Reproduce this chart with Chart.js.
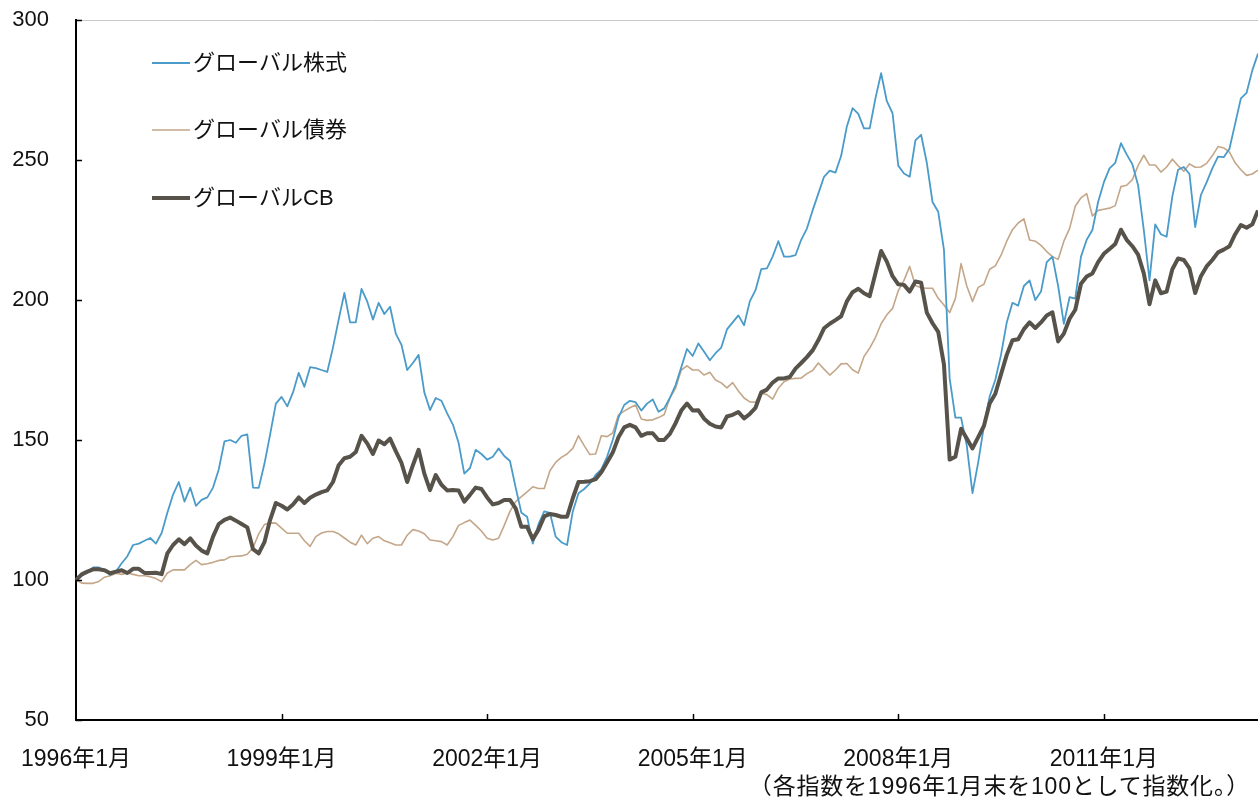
<!DOCTYPE html>
<html>
<head>
<meta charset="utf-8">
<script src="https://cdn.jsdelivr.net/npm/chart.js@4"></script>
<style>
  html, body { margin: 0; padding: 0; background: #fff; }
  #wrap { position: relative; width: 1258px; height: 800px; }
  #note { position: absolute; right: 8px; top: 767px; font: 23px 'Liberation Sans', 'Noto Sans CJK JP', sans-serif; letter-spacing: 0.8px; color: #111; white-space: nowrap; }
</style>
</head>
<body>
<div id="wrap">
  <canvas id="c" width="1258" height="800"></canvas>
  <div id="note">（各指数を1996年1月末を100として指数化。）</div>
</div>
<script>
// ---- data ----
const startYear = 1996;
const monthCount = 208; // 1996年1月 .. 2013年4月
const categories = [];
for (let i = 0; i < monthCount; i++) {
  const y = startYear + Math.floor(i / 12), m = (i % 12) + 1;
  categories.push(y + '年' + m + '月');
}
const tickLabels = ['1996年1月', '1999年1月', '2002年1月', '2005年1月', '2008年1月', '2011年1月'];
const seriesNames = ['グローバル株式', 'グローバル債券', 'グローバルCB'];

const stock = [
  100,101.5,103,104.5,104.5,103.5,101.8,103,106,108.5,
  112.5,113,114,115,113,116.8,124,130.5,135,128,
  133,126.5,128.6,129.5,133,139.5,149.5,150,149,151.5,
  152,133,132.9,141.5,152,163,165.4,162,167,174,
  169,176,175.7,175,174.3,183,193,202.5,192,192,
  204,199.5,193,199,
  195,197.6,188,184,175,177.5,180.4,167,160.7,165,
  164,159.5,155.5,149,138,140,146.5,145,143,144,
  147,144.3,142.5,133,124,122.6,113,120,124.5,124,
  115.5,113.5,112.5,124.5,131,132.5,134.5,137.5,139.5,144,
  150,158,162.5,164,163.5,160.5,163,164.5,160.1,161.3,
  165,169.6,176,
  182.5,180,184.5,181.5,178.5,181,183,189.5,192,194.5,
  191,199.5,203.5,211,211.3,215.5,221,215.5,215.5,216,
  221.5,225.5,232,238,244,246.2,245.5,251.5,262,268.5,
  266.5,261.3,261.3,272,281,271,266.7,248,245.2,244,
  257,259,249,235,231.5,218,172,158,
  158,148,131,142,155,165.5,171.5,180.5,192,199,
  198,205,207,200,203,213.5,215.5,205,191.5,201,
  200.5,215.5,221.5,225,235,242,247,249,256,252,
  248.5,241,225,207,227,223.5,222.6,237,246.5,247.5,
  245,226,237.5,242,247,251.2,251,254,263,272,
  274,282,288
];

const bond = [
  100,98.9,98.8,98.8,99.5,101,101.5,102.4,102,102.5,
  102,101.5,101.5,101.2,100.5,99.4,102.5,103.6,103.6,103.6,
  105.5,107,105.5,105.8,106.3,107,107.2,108.3,108.5,108.6,
  109.2,111.5,116.5,119.8,120.4,120.3,118.5,116.7,116.7,116.7,
  114,112,115.5,116.8,117.3,117.3,116.5,115,113.5,112.5,
  116,113,114.9,115.5,
  114,113.3,112.5,112.5,116,118,117.5,116.5,114.3,114,
  113.7,112.5,115.5,119.5,120.5,121.4,119.5,117.5,114.9,114.3,
  114.9,119.5,124.5,128,129.8,131.5,133.3,132.7,132.7,139,
  142,143.8,145,147,151.5,148,144.8,145,151.5,151.2,
  152.5,159,160.3,161.5,162.5,157.5,157,157.2,158,159,
  165,168.5,
  175,176.5,175,175,173.2,174.2,171.4,170.4,168.6,170.5,
  167.5,165,163.6,163.5,166.7,166.2,164.6,168.5,170.8,171.8,
  172,172.1,173.7,174.8,177.5,175.3,173.2,175,177.2,177.3,
  175.1,173.9,179.8,182.8,186.6,191.5,194.7,197,203.3,207,
  212,205.2,204.4,204.2,204.2,200.6,198.2,195.5,200.5,
  213,205,199.5,204.5,205.6,211,212.2,216,221,225.1,
  227.5,229,221.4,221,219.5,217.3,215.5,214.5,221,225.5,
  233.5,236.5,238,230,232,232.4,232.8,233.7,240.5,241,
  243,248,251.7,248.2,248.2,245.7,247.5,250.3,248,246,
  248.6,247.4,247.5,248.8,251.5,254.8,254.3,252.8,249,246.5,
  244.5,245,246.4
];

const cb = [
  100,102,103,103.8,103.8,103.5,102.4,103,103.5,102.5,
  104,104,102.5,102.5,102.6,102.1,109.5,112.5,114.5,112.8,
  114.9,112.3,110.5,109.5,115.5,120,121.5,122.3,121.2,120,
  118.8,111,109.5,113.5,121.5,127.5,126.5,125.2,127,129.5,
  127.5,129.4,130.5,131.4,132,135,141,143.5,144,145.7,
  151.5,148.8,145,149.8,
  148.5,150.5,146,141.8,135,141,146.5,138,132.1,137.5,
  134,132,132.1,132,128,130.4,133,132.5,129.5,127,
  127.5,128.6,128.6,125.6,119,119,114.6,118,122.7,123.6,
  123.2,122.6,122.6,129.2,135,135.1,135.3,136,138.5,142,
  145.5,151,154.5,155.4,154.5,151.5,152.4,152.4,150,150,
  152.2,156,
  160.5,163,160.5,160.6,157.6,155.8,154.8,154.5,158.4,159,
  160,157.7,159.3,161.5,167,168,170.5,172,172,172.5,
  175.5,177.5,179.6,182,185.6,189.9,191.5,192.8,194.2,199.5,
  202.8,204,202.4,201.4,209.5,217.5,213.7,208.5,205.6,205.4,
  203,206.6,206.2,195.5,191.7,188.6,177,143,144,
  154,150.5,147,151,155,163,166.5,173.5,180.4,185.6,
  186,189.6,192,190,192,194.5,195.6,185.2,188,193.3,
  196.5,205.8,208.4,209.5,213.5,216.5,218.2,220,225.1,221.5,
  219.2,216.2,209.5,198.5,207,202.4,203,211,214.8,214.3,
  211.3,202.5,208.5,212,214.3,217,218,219.2,223.5,226.8,
  225.8,227,232
];

const yMin = 50, yMax = 300, yStep = 50;

// ---- styles ----
const FONT = "'Liberation Sans', 'Noto Sans CJK JP', sans-serif";
const colors = ['#4a9bc9', '#c4a688', '#57524a'];
const widths = [1.8, 1.6, 4];

const innerTicks = {
  id: 'innerTicks',
  afterDatasetsDraw(chart) {
    const { ctx, chartArea: a, scales: { x, y } } = chart;
    ctx.save();
    ctx.strokeStyle = '#c8c8c8';
    ctx.lineWidth = 1;
    ctx.beginPath();
    ctx.moveTo(a.left, a.top + 0.5);
    ctx.lineTo(a.right, a.top + 0.5);
    ctx.stroke();
    ctx.strokeStyle = '#000';
    ctx.lineWidth = 1.5;
    y.ticks.forEach(t => {
      const py = Math.round(y.getPixelForValue(t.value)) + 0.5;
      ctx.beginPath();
      ctx.moveTo(a.left, py);
      ctx.lineTo(a.left + 6, py);
      ctx.stroke();
    });
    categories.forEach((c, i) => {
      if (tickLabels.includes(c) && i > 0) {
        const px = Math.round(x.getPixelForValue(i)) + 0.5;
        ctx.beginPath();
        ctx.moveTo(px, a.bottom);
        ctx.lineTo(px, a.bottom - 6);
        ctx.stroke();
      }
    });
    ctx.restore();
  }
};

const legendInside = {
  id: 'legendInside',
  afterDatasetsDraw(chart) {
    const { ctx } = chart;
    const ys = [63, 130, 198];
    ctx.save();
    ctx.font = '22px ' + FONT;
    ctx.textBaseline = 'middle';
    ctx.fillStyle = '#111';
    chart.data.datasets.forEach((ds, i) => {
      ctx.strokeStyle = ds.borderColor;
      ctx.lineWidth = ds.borderWidth;
      ctx.beginPath();
      ctx.moveTo(152, ys[i]);
      ctx.lineTo(190, ys[i]);
      ctx.stroke();
      ctx.fillText(ds.label, 193, ys[i] + 1);
    });
    ctx.restore();
  }
};

new Chart(document.getElementById('c'), {
  type: 'line',
  data: {
    labels: categories,
    datasets: [
      { label: seriesNames[0], data: stock, borderColor: colors[0], borderWidth: widths[0], order: 1 },
      { label: seriesNames[1], data: bond, borderColor: colors[1], borderWidth: widths[1], order: 2 },
      { label: seriesNames[2], data: cb, borderColor: colors[2], borderWidth: widths[2], order: 0 }
    ]
  },
  options: {
    responsive: false,
    devicePixelRatio: 1,
    animation: false,
    layout: { padding: { top: 20, right: 0, left: 0, bottom: 0 } },
    elements: { point: { radius: 0 }, line: { tension: 0, fill: false, borderJoinStyle: 'round' } },
    plugins: { legend: { display: false }, tooltip: { enabled: false } },
    scales: {
      x: {
        type: 'category',
        offset: false,
        grid: { display: true, drawOnChartArea: false, drawTicks: false, color: 'rgba(0,0,0,0)' },
        border: { display: true, color: '#000', width: 2 },
        ticks: {
          autoSkip: false, maxRotation: 0, minRotation: 0, padding: 26,
          color: '#111', font: { family: FONT, size: 23 },
          callback: (v, i) => tickLabels.includes(categories[i]) ? categories[i] : ''
        },
        afterFit: s => { s.height = 80; s.paddingLeft = 0; s.paddingRight = 0; }
      },
      y: {
        min: yMin, max: yMax,
        grid: { display: true, drawOnChartArea: false, drawTicks: false, color: 'rgba(0,0,0,0)' },
        border: { display: true, color: '#000', width: 2 },
        ticks: { stepSize: yStep, padding: 27, color: '#111', font: { family: FONT, size: 22 } },
        afterFit: s => { s.width = 76; s.paddingTop = 0; s.paddingBottom = 0; }
      }
    }
  },
  plugins: [innerTicks, legendInside]
});
</script>
</body>
</html>
